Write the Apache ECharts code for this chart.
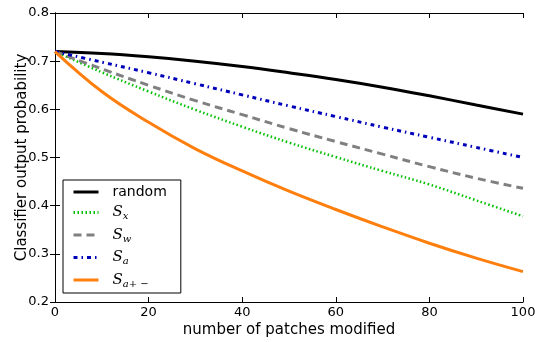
<!DOCTYPE html>
<html><head><meta charset="utf-8">
<script src="https://cdn.jsdelivr.net/npm/echarts@6/dist/echarts.min.js"></script>
<style>html,body{margin:0;padding:0;background:#fff}#c{width:535px;height:342px}</style>
</head><body><div id="c"></div>
<script>
const xs = [0,10,20,30,40,50,60,70,80,90,100];
const randomVals = [0.720,0.716,0.709,0.700,0.689,0.676,0.662,0.646,0.628,0.609,0.590];
const sxVals     = [0.720,0.677,0.637,0.599,0.564,0.531,0.501,0.472,0.444,0.411,0.378];
const swVals     = [0.720,0.684,0.650,0.618,0.589,0.560,0.533,0.507,0.481,0.457,0.436];
const saVals     = [0.720,0.698,0.676,0.653,0.630,0.607,0.585,0.563,0.542,0.521,0.500];
const sapmVals   = [0.720,0.637,0.573,0.518,0.472,0.430,0.392,0.356,0.322,0.291,0.263];
const xTicks = [0,20,40,60,80,100];
const yTicks = [0.2,0.3,0.4,0.5,0.6,0.7,0.8];

const pair = v => xs.map((x,i)=>[x,v[i]]);
const font = 'DejaVu Sans';
const chart = echarts.init(document.getElementById('c'));
const axisCommon = {
  axisLine:{show:true,lineStyle:{color:'#000',width:1}},
  axisTick:{show:true,inside:true,length:5,lineStyle:{color:'#000'}},
  splitLine:{show:false}
};
const series = [
  {name:'random', data:pair(randomVals), color:'#000000', lineStyle:{width:3,type:'solid'}},
  {name:'S_x', data:pair(sxVals), color:'#00c000', lineStyle:{width:2.5,type:[1.5,2.5]}},
  {name:'S_w', data:pair(swVals), color:'#808080', lineStyle:{width:3,type:[8,5]}},
  {name:'S_a', data:pair(saVals), color:'#0000bb', lineStyle:{width:3,type:[4,4,1.5,4]}},
  {name:'S_a+-', data:pair(sapmVals), color:'#ff7f0e', lineStyle:{width:3,type:'solid'}}
].map(s=>Object.assign({type:'line',smooth:0.4,symbol:'none',xAxisIndex:0,yAxisIndex:0,z:3},s));
series.forEach(s=>{s.lineStyle.cap='butt';});

const labels = {
  'random':'{r|random}',
  'S_x':'{s|S}{b|x}',
  'S_w':'{s|S}{b|w}',
  'S_a':'{s|S}{b|a}',
  'S_a+-':'{s|S}{b|a+ −}'
};
chart.setOption({
  animation:false,
  backgroundColor:'#fff',
  grid:{left:55,right:12,top:13,bottom:40,containLabel:false,outerBoundsMode:'none'},
  xAxis:[
    Object.assign({type:'value',min:0,max:100,interval:20,position:'bottom',
      name:'number of patches modified',nameLocation:'middle',nameGap:21,nameMoveOverlap:false,
      nameTextStyle:{fontFamily:font,fontSize:15,color:'#000'},
      axisLabel:{fontFamily:font,fontSize:13,color:'#000',margin:4}},axisCommon),
    Object.assign({type:'value',min:0,max:100,interval:20,position:'top',
      axisLabel:{show:false}},axisCommon)
  ],
  yAxis:[
    Object.assign({type:'value',min:0.2,max:0.8,interval:0.1,position:'left',
      name:'Classifier output probability',nameLocation:'middle',nameGap:25,nameMoveOverlap:false,
      nameTextStyle:{fontFamily:font,fontSize:15,color:'#000'},
      axisLabel:{fontFamily:font,fontSize:13,color:'#000',margin:6,formatter:v=>v.toFixed(1)}},axisCommon),
    Object.assign({type:'value',min:0.2,max:0.8,interval:0.1,position:'right',
      axisLabel:{show:false}},axisCommon)
  ],
  legend:{
    orient:'vertical',left:63,top:180,
    backgroundColor:'#fff',borderColor:'#000',borderWidth:1,borderRadius:0,
    padding:[5,14,4,9],itemGap:6,itemWidth:25,itemHeight:14,
    itemStyle:{opacity:0},
    data:series.map(s=>({name:s.name,lineStyle:{width:3}})),
    formatter:n=>labels[n],
    textStyle:{color:'#000',padding:[0,0,0,9],
      rich:{
        r:{fontFamily:font,fontSize:14,color:'#000'},
        s:{fontFamily:'DejaVu Serif',fontStyle:'italic',fontSize:15,color:'#000'},
        b:{fontFamily:'DejaVu Serif',fontStyle:'italic',fontSize:10,color:'#000',verticalAlign:'bottom',padding:[8,0,0,0]}
      }}
  },
  series:series
});
</script></body></html>
